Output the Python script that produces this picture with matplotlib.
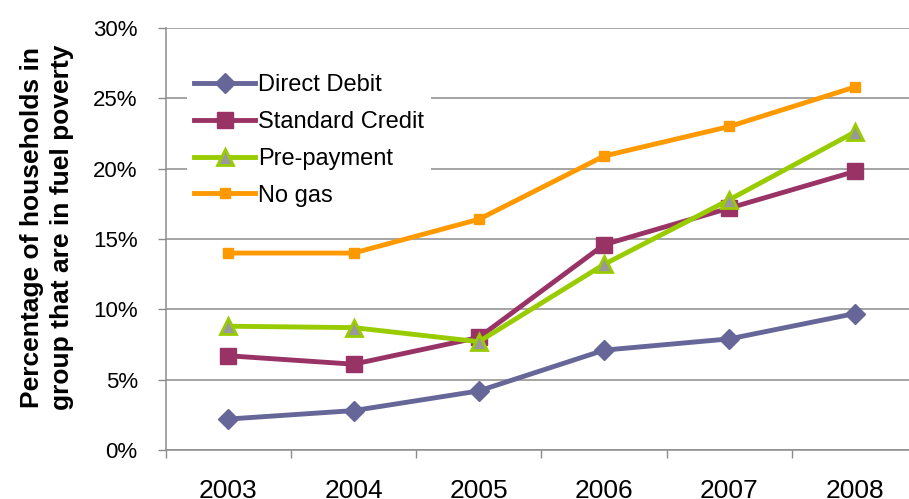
import numpy as np
import matplotlib
matplotlib.use("Agg")
import matplotlib.pyplot as plt
from matplotlib.ticker import FixedLocator, PercentFormatter

plt.rcParams['font.family'] = ['Liberation Sans', 'DejaVu Sans']

# Data (percent)
years = ['2003', '2004', '2005', '2006', '2007', '2008']
direct_debit = [2.2, 2.8, 4.2, 7.1, 7.9, 9.7]
standard_credit = [6.7, 6.1, 8.0, 14.6, 17.2, 19.8]
pre_payment = [8.8, 8.7, 7.7, 13.2, 17.8, 22.6]
no_gas = [14.0, 14.0, 16.4, 20.9, 23.0, 25.8]

grid_col = '#8c8c8c'

fig = plt.figure(figsize=(9.09, 4.99), dpi=100)
# plot area runs slightly past the right edge of the picture, as in the reference
ax = fig.add_axes([165.5 / 909, 49 / 499, 752 / 909, 422 / 499])

x = np.arange(len(years))
ax.plot(x, direct_debit, color='#666699', lw=3.5, marker='D', ms=10,
        label='Direct Debit')
ax.plot(x, standard_credit, color='#993366', lw=3.5, marker='s', ms=11,
        label='Standard Credit')
ax.plot(x, pre_payment, color='#99cc00', lw=3.5, marker='^', ms=11,
        mfc='#999999', mec='#99cc00', mew=2, label='Pre-payment')
ax.plot(x, no_gas, color='#ff9900', lw=3.5, marker='s', ms=7,
        label='No gas')

# axes limits and ticks
ax.set_xlim(-0.5, len(years) - 0.5)
ax.set_ylim(0, 30)
ax.yaxis.set_major_locator(FixedLocator(np.arange(0, 31, 5)))
ax.yaxis.set_major_formatter(PercentFormatter(decimals=0))
ax.set_xticks(x)
ax.set_xticklabels(years)
ax.xaxis.set_minor_locator(FixedLocator(np.arange(-0.5, len(years), 1.0)))
ax.tick_params(axis='x', which='major', length=0, pad=21, labelsize=19)
ax.tick_params(axis='x', which='minor', length=6, width=1, color=grid_col,
               direction='out')
ax.tick_params(axis='y', length=6, width=1, color=grid_col, pad=14,
               labelsize=16)

ax.grid(axis='y', color=grid_col, lw=1.1)
ax.set_axisbelow(True)
for side in ['top', 'right']:
    ax.spines[side].set_visible(False)
for side in ['left', 'bottom']:
    ax.spines[side].set_color(grid_col)
    ax.spines[side].set_linewidth(1.1)

fig.text(47 / 909, 1 - 227 / 499,
         'Percentage of households in\ngroup that are in fuel poverty',
         rotation=90, ha='center', va='center', fontsize=19,
         fontweight='bold', multialignment='center', linespacing=1.35)

leg = ax.legend(loc='upper left', bbox_to_anchor=(187 / 909, 1 - 67 / 499),
                bbox_transform=fig.transFigure, fontsize=17, frameon=True,
                handlelength=2.6, handletextpad=0.1, labelspacing=0.63,
                borderpad=0.3, borderaxespad=0)
leg.get_frame().set_facecolor('white')
leg.get_frame().set_edgecolor('none')
leg.get_frame().set_alpha(1.0)

fig.savefig('out.png', dpi=100)
plt.close(fig)
